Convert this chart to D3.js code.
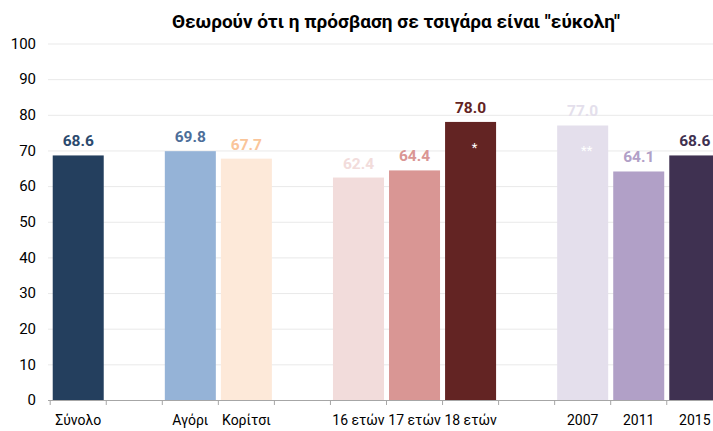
<!DOCTYPE html>
<html>
<head>
<meta charset="utf-8">
<script src="https://cdn.jsdelivr.net/npm/d3@7"></script>
<style>
  body { margin: 0; background: #fff; }
  svg { display: block; font-family: Roboto, "Noto Sans", sans-serif; }
  .grid line { stroke: #e9e9e9; }
  .grid .domain { display: none; }
</style>
</head>
<body>
<svg width="713" height="431"></svg>
<script>
// slots on the x axis, g1..g3 are the empty gaps between groups
const slots = ['Σύνολο', 'g1', 'Αγόρι', 'Κορίτσι', 'g2', '16 ετών', '17 ετών', '18 ετών', 'g3', '2007', '2011', '2015'];
const categories = ['Σύνολο', 'Αγόρι', 'Κορίτσι', '16 ετών', '17 ετών', '18 ετών', '2007', '2011', '2015'];
const values = [68.6, 69.8, 67.7, 62.4, 64.4, 78.0, 77.0, 64.1, 68.6];
const barColors = ['#243f5e', '#95b3d7', '#fde9d9', '#f2dcdb', '#d99694', '#632423', '#e4dfec', '#b1a0c7', '#3f3151'];
const labelColors = ['#2b4a6e', '#4d6e99', '#fac59a', '#f2dcdb', '#da9694', '#632423', '#e4dfec', '#b1a0c7', '#3f3151'];
const marks = ['', '', '', '', '', '*', '**', '', ''];
const yTicks = [0, 10, 20, 30, 40, 50, 60, 70, 80, 90, 100];

const data = categories.map((c, i) => ({
  cat: c, value: values[i], color: barColors[i], labelColor: labelColors[i], mark: marks[i]
}));

const svg = d3.select('svg');

const x = d3.scaleBand()
  .domain(slots)
  .range([50.2, 50.2 + 56.05 * slots.length])
  .paddingInner(0.09)
  .paddingOuter(0.045);

const y = d3.scaleLinear()
  .domain([0, 100])
  .range([400, 43.5]);

// gridlines
svg.append('g')
  .attr('class', 'grid')
  .attr('transform', 'translate(48,0)')
  .call(d3.axisLeft(y).tickValues(yTicks.slice(1)).tickSize(-670).tickFormat(''));

// y labels
svg.append('g')
  .selectAll('text')
  .data(yTicks)
  .enter()
  .append('text')
  .attr('x', 36)
  .attr('y', (d) => y(d))
  .attr('dy', '0.35em')
  .attr('text-anchor', 'end')
  .attr('font-size', 15)
  .attr('fill', '#000')
  .text((d) => d);

// bars
svg.append('g')
  .selectAll('rect')
  .data(data)
  .enter()
  .append('rect')
  .attr('x', (d) => x(d.cat))
  .attr('y', (d) => y(d.value))
  .attr('width', x.bandwidth())
  .attr('height', (d) => y(0) - y(d.value))
  .attr('fill', (d) => d.color);

// value labels
svg.append('g')
  .selectAll('text')
  .data(data)
  .enter()
  .append('text')
  .attr('x', (d) => x(d.cat) + x.bandwidth() / 2)
  .attr('y', (d) => y(d.value) - 9)
  .attr('text-anchor', 'middle')
  .attr('font-size', 15.5)
  .attr('font-weight', 'bold')
  .attr('fill', (d) => d.labelColor)
  .text((d) => d.value.toFixed(1));

// asterisks inside bars
svg.append('g')
  .selectAll('text')
  .data(data.filter((d) => d.mark))
  .enter()
  .append('text')
  .attr('x', (d) => x(d.cat) + x.bandwidth() / 2 + 4)
  .attr('y', (d) => y(d.value) + 30)
  .attr('text-anchor', 'middle')
  .attr('font-size', 13)
  .attr('fill', '#fff')
  .text((d) => d.mark);

// x axis line with ticks between slots
const step = x.step();
const tickStart = x(slots[0]) - step * x.paddingInner() / 2;
const xAxis = svg.append('g');
xAxis.append('line')
  .attr('x1', 48).attr('x2', 713)
  .attr('y1', 400.5).attr('y2', 400.5)
  .attr('stroke', '#a6a6a6');
xAxis.selectAll('line.tick')
  .data(d3.range(slots.length + 1))
  .enter()
  .append('line')
  .attr('class', 'tick')
  .attr('x1', (i) => tickStart + i * step)
  .attr('x2', (i) => tickStart + i * step)
  .attr('y1', 400)
  .attr('y2', 405)
  .attr('stroke', '#a6a6a6');

svg.append('g')
  .selectAll('text')
  .data(categories)
  .enter()
  .append('text')
  .attr('x', (d) => x(d) + x.bandwidth() / 2)
  .attr('y', 425)
  .attr('text-anchor', 'middle')
  .attr('font-size', 14)
  .attr('fill', '#000')
  .text((d) => d);

svg.append('text')
  .attr('x', 396)
  .attr('y', 28)
  .attr('text-anchor', 'middle')
  .attr('font-size', 19)
  .attr('font-weight', 'bold')
  .attr('fill', '#000')
  .text('Θεωρούν ότι η πρόσβαση σε τσιγάρα είναι "εύκολη"');
</script>
</body>
</html>
